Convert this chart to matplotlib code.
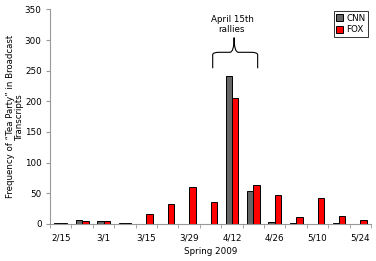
import matplotlib
matplotlib.use("Agg")
import matplotlib.pyplot as plt
import numpy as np
from matplotlib.path import Path
from matplotlib.patches import PathPatch

weeks = ["2/15", "2/22", "3/1", "3/8", "3/15", "3/22", "3/29", "4/5",
         "4/12", "4/19", "4/26", "5/3", "5/10", "5/17", "5/24"]
cnn = [2, 7, 5.5, 1, 0, 0, 0, 0, 241, 53, 3, 1, 0, 1, 0]
fox = [2, 5, 4, 1, 16, 33, 61, 35, 206, 63, 48, 11, 43, 13.5, 7]
shown_labels = ["2/15", "3/1", "3/15", "3/29", "4/12", "4/26", "5/10", "5/24"]

FS = 6.3

fig = plt.figure(figsize=(3.76, 2.61), dpi=100)
ax = fig.add_axes([0.133, 0.142, 0.854, 0.822])

x = np.arange(len(weeks))
w = 0.3
ax.bar(x - w/2, cnn, width=w, color="#666666", edgecolor="black", linewidth=0.7, label="CNN")
ax.bar(x + w/2, fox, width=w, color="#ff0000", edgecolor="black", linewidth=0.7, label="FOX")

ax.set_xlim(-0.5, len(weeks) - 0.5)
ax.set_ylim(0, 350)
ax.set_yticks(np.arange(0, 351, 50))
ax.set_xticks([i for i, wk in enumerate(weeks) if wk in shown_labels])
ax.set_xticklabels(shown_labels)
ax.set_xticks(np.arange(-0.5, len(weeks), 1), minor=True)
ax.tick_params(axis="x", which="major", length=0, labelsize=FS, pad=7)
ax.tick_params(axis="x", which="minor", length=3, color="#999999", direction="out")
ax.tick_params(axis="y", length=3, color="#999999", labelsize=FS, pad=3)

for s in ["top", "right"]:
    ax.spines[s].set_visible(False)
for s in ["left", "bottom"]:
    ax.spines[s].set_color("#999999")
    ax.spines[s].set_linewidth(0.8)

ax.set_xlabel("Spring 2009", fontsize=FS, labelpad=3)
ax.set_ylabel("Frequency of \u201cTea Party\u201d in Broadcast\nTranscripts", fontsize=6.2,
              linespacing=1.0)
ax.yaxis.set_label_coords(-0.08, 0.5)

leg = ax.legend(loc="upper right", bbox_to_anchor=(0.995, 1.0), fontsize=FS,
                frameon=True, fancybox=False, edgecolor="black", handlelength=0.8,
                handleheight=0.8, handletextpad=0.3, borderpad=0.3, labelspacing=0.3,
                borderaxespad=0.2)
leg.get_frame().set_linewidth(0.7)

# annotation with brace
ax.text(8.0, 326, "April 15th\nrallies", ha="center", va="center", fontsize=FS, linespacing=1.15)
xl, xr, xm = 7.1, 9.2, 8.1
yb, yh, yt = 254, 280, 304
verts = [(xl, yb), (xl, yh - 4), (xl, yh), (xl + 0.3, yh),
         (xm - 0.2, yh), (xm, yh), (xm, yt),
         (xm, yh), (xm + 0.2, yh), (xr - 0.3, yh),
         (xr, yh), (xr, yh - 4), (xr, yb)]
codes = [Path.MOVETO, Path.LINETO, Path.CURVE3, Path.CURVE3,
         Path.LINETO, Path.CURVE3, Path.CURVE3,
         Path.CURVE3, Path.CURVE3, Path.LINETO,
         Path.CURVE3, Path.CURVE3, Path.LINETO]
ax.add_patch(PathPatch(Path(verts, codes), fill=False, edgecolor="black", linewidth=0.8,
                       clip_on=False))

fig.savefig("out.png", dpi=100)
